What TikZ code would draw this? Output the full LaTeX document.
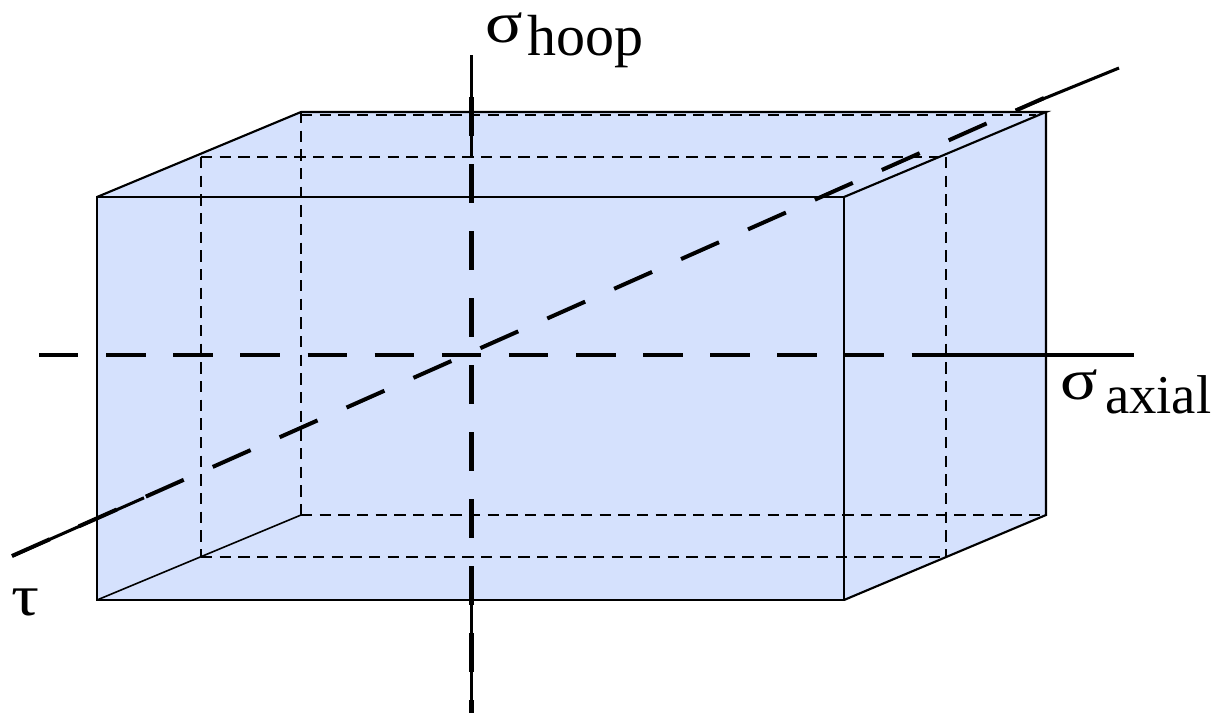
\documentclass[tikz,border=0pt]{standalone}
\usepackage{fontspec}
\setmainfont{Liberation Serif}
\definecolor{boxfill}{HTML}{D5E1FD}
\tikzset{
  edge/.style={draw=black,line width=1.6pt,line join=miter},
  hidden/.style={draw=black,line width=1.1pt,dash pattern=on 8.5pt off 5.5pt},
  axisthin/.style={draw=black,line width=2.3pt},
  axisthick/.style={draw=black,line width=3.6pt},
  label/.style={anchor=base west,inner sep=0pt,outer sep=0pt,font=\fontsize{43.5}{44}\selectfont},
  greek/.style={anchor=base west,inner sep=0pt,outer sep=0pt,font=\fontsize{43.5}{44}\selectfont,xscale=1.2}
}
\begin{document}
\begin{tikzpicture}[x=0.75pt,y=-0.75pt]
\useasboundingbox (0,0) rectangle (1224,715);
% box corners
\coordinate (fa) at (97,197);
\coordinate (fb) at (844,197);
\coordinate (fc) at (844,600);
\coordinate (fd) at (97,600);
\coordinate (ba) at (301,112);
\coordinate (bb) at (1046,112);
\coordinate (bc) at (1046,515);
\coordinate (bd) at (301,515);
\coordinate (ma) at (201,157);
\coordinate (mb) at (946,157);
\coordinate (mc) at (946,557);
\coordinate (md) at (201,557);
\coordinate (ta) at (301,115);
\coordinate (tb) at (1036,115);
\fill[boxfill] (fa) -- (ba) -- (bb) -- (bc) -- (fc) -- (fd) -- cycle;
% hidden edges
\draw[hidden] (ta) -- (tb);
\draw[hidden] (ba) -- (bd);
\draw[hidden] (bd) -- (bc);
\draw[hidden] (ma) -- (mb);
\draw[hidden] (mb) -- (mc);
\draw[hidden] (ma) -- (md);
\draw[hidden] (md) -- (mc);
% visible edges
\draw[edge] (fa) rectangle (fc);
\draw[edge] (fa) -- (ba) -- (bb) -- (fb);
\draw[edge] (bb) -- (bc) -- (fc);
\draw[edge,line width=1.2pt] (fd) -- (bd);
% axes: end points
\coordinate (vt) at (471.5,55);
\coordinate (vs) at (471.5,97);
\coordinate (vm) at (471.5,157);
\coordinate (vn) at (471.5,603);
\coordinate (vb) at (471.5,713);
\coordinate (hl) at (39,355);
\coordinate (hs) at (950,355);
\coordinate (he) at (1073,355);
\coordinate (hr) at (1134,355);
\coordinate (dl) at (12,556);
\coordinate (dm) at (144,497.8);
\coordinate (dn) at (1016,110);
\coordinate (de) at (1044,98);
\coordinate (dr) at (1119,68);
\draw[axisthin,line width=2.8pt] (vt) -- (vm);
\draw[axisthin,line width=2.8pt] (vn) -- (vb);
\draw[axisthin] (hs) -- (hr);
\draw[axisthin] (dl) -- (dm);
\draw[axisthin] (dn) -- (dr);
\draw[axisthick,dash pattern=on 29pt off 21.25pt] (vs) -- (vb);
\draw[axisthick,dash pattern=on 29.6pt off 20.75pt] (hl) -- (he);
\draw[axisthick,line width=3pt,dash pattern=on 31.1pt off 23.8pt] (dl) -- (de);
% labels
\node[greek] (shoop) at (485,42) {σ};
\node[label] (hoop) at (527,55) {hoop};
\node[greek] (saxial) at (1060,399) {σ};
\node[label,font=\fontsize{41}{42}\selectfont] (axial) at (1105,413) {axial};
\node[greek] (tau) at (12,615) {τ};
\end{tikzpicture}
\end{document}
